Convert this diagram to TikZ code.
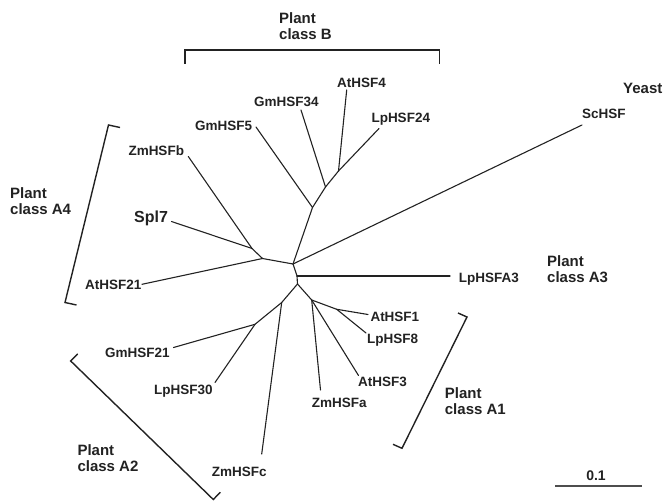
\documentclass[tikz,border=0pt]{standalone}
\usepackage{fontspec}
\setmainfont{Liberation Sans}
\definecolor{ink}{HTML}{222222}
\begin{document}
\begin{tikzpicture}[x=1pt,y=-1pt,
  branch/.style={draw=ink,line width=1.1pt,line cap=round,line join=round},
  bracket/.style={draw=ink,line width=1.4pt,line join=miter},
  leaf/.style={font=\fontsize{13.5}{15}\selectfont\bfseries,text=ink,inner sep=0pt,anchor=base west},
  grp/.style={font=\fontsize{15}{16}\selectfont\bfseries,text=ink,inner sep=0pt,anchor=west,align=left}]
\useasboundingbox (0,0) rectangle (664,502);
% internal nodes
\coordinate (c1) at (293,264);
\coordinate (cm) at (297,276);
\coordinate (c2) at (297.5,284);
\coordinate (B0) at (312.5,207.5);
\coordinate (B1) at (325.5,187);
\coordinate (B2) at (338.5,171);
\coordinate (A4b) at (262.5,258.5);
\coordinate (A4a) at (252,248.5);
\coordinate (L1) at (281.7,302.5);
\coordinate (L2) at (255,324.3);
\coordinate (R1) at (311.7,300);
\coordinate (R2) at (336.7,309.3);
% tips
\coordinate (tLpHSFA3) at (450,276);
\coordinate (tScHSF) at (582,125);
\coordinate (tGmHSF5) at (256,127);
\coordinate (tGmHSF34) at (301,110);
\coordinate (tAtHSF4) at (346.7,90);
\coordinate (tLpHSF24) at (379,128.5);
\coordinate (tAtHSF21) at (142,284.3);
\coordinate (tSpl7) at (171.5,221.5);
\coordinate (tZmHSFb) at (188.3,156.5);
\coordinate (tGmHSF21) at (173.5,347.5);
\coordinate (tLpHSF30) at (215,382.5);
\coordinate (tZmHSFc) at (261.7,454);
\coordinate (tZmHSFa) at (320.5,390);
\coordinate (tAtHSF3) at (358.5,375.5);
\coordinate (tAtHSF1) at (368,314.5);
\coordinate (tLpHSF8) at (366,333);
% branches
\draw[branch] (c1) -- (cm) -- (c2);
\draw[branch] (cm) -- (tLpHSFA3);
\draw[branch] (c1) -- (tScHSF);
\draw[branch] (c1) -- (B0);
\draw[branch] (B0) -- (tGmHSF5);
\draw[branch] (B0) -- (B1);
\draw[branch] (B1) -- (tGmHSF34);
\draw[branch] (B1) -- (B2);
\draw[branch] (B2) -- (tAtHSF4);
\draw[branch] (B2) -- (tLpHSF24);
\draw[branch] (c1) -- (A4b);
\draw[branch] (A4b) -- (tAtHSF21);
\draw[branch] (A4b) -- (A4a);
\draw[branch] (A4a) -- (tSpl7);
\draw[branch] (A4a) -- (tZmHSFb);
\draw[branch] (c2) -- (L1);
\draw[branch] (L1) -- (L2);
\draw[branch] (L2) -- (tGmHSF21);
\draw[branch] (L2) -- (tLpHSF30);
\draw[branch] (L1) -- (tZmHSFc);
\draw[branch] (c2) -- (R1);
\draw[branch] (R1) -- (tZmHSFa);
\draw[branch] (R1) -- (tAtHSF3);
\draw[branch] (R1) -- (R2);
\draw[branch] (R2) -- (tAtHSF1);
\draw[branch] (R2) -- (tLpHSF8);
% leaf labels
\node[leaf] (nGmHSF34) at (254,106.7) {GmHSF34};
\node[leaf] (nGmHSF5) at (195,130.7) {GmHSF5};
\node[leaf] (nZmHSFb) at (128.3,156) {ZmHSFb};
\node[leaf,font=\fontsize{16}{18}\selectfont\bfseries] (nSpl7) at (134,222.8) {Spl7};
\node[leaf] (nAtHSF4) at (337,87.3) {AtHSF4};
\node[leaf] (nLpHSF24) at (371.3,122.5) {LpHSF24};
\node[leaf] (nScHSF) at (582,118.3) {ScHSF};
\node[leaf] (nAtHSF21) at (85,289.3) {AtHSF21};
\node[leaf] (nLpHSFA3) at (458.7,282.5) {LpHSFA3};
\node[leaf] (nGmHSF21) at (105,357.5) {GmHSF21};
\node[leaf] (nLpHSF30) at (154,394.3) {LpHSF30};
\node[leaf] (nZmHSFc) at (211.7,476) {ZmHSFc};
\node[leaf] (nAtHSF1) at (370.3,321.7) {AtHSF1};
\node[leaf] (nLpHSF8) at (367,343.5) {LpHSF8};
\node[leaf] (nAtHSF3) at (358,387) {AtHSF3};
\node[leaf] (nZmHSFa) at (311.7,407.3) {ZmHSFa};
% group labels
\node[grp] (gB) at (279,26.6) {Plant\\class B};
\node[grp,anchor=base west] (gY) at (623,93.5) {Yeast};
\node[grp] (gA4) at (10,201.6) {Plant\\class A4};
\node[grp] (gA3) at (547,269.6) {Plant\\class A3};
\node[grp] (gA1) at (444.7,400.9) {Plant\\class A1};
\node[grp] (gA2) at (77.3,458.6) {Plant\\class A2};
% brackets
\draw[bracket] (185,64) -- (185,50) -- (439.5,50) -- (439.5,64);
\draw[bracket] (120,127.5) -- (108.5,125) -- (65,302.5) -- (76.5,305);
\draw[bracket] (458,313) -- (467,317) -- (402,448.3) -- (393,444.3);
\draw[bracket] (77.7,353.8) -- (70.7,361) -- (213.3,499.5) -- (220.3,492.3);
% scale bar
\coordinate (s1) at (555,486);
\coordinate (s2) at (641.5,486);
\draw[draw=ink!80,line width=1.3pt] (s1) -- (s2);
\node[leaf,anchor=base,font=\fontsize{14}{16}\selectfont\bfseries] (nScale) at (596,480.5) {0.1};
\end{tikzpicture}
\end{document}
